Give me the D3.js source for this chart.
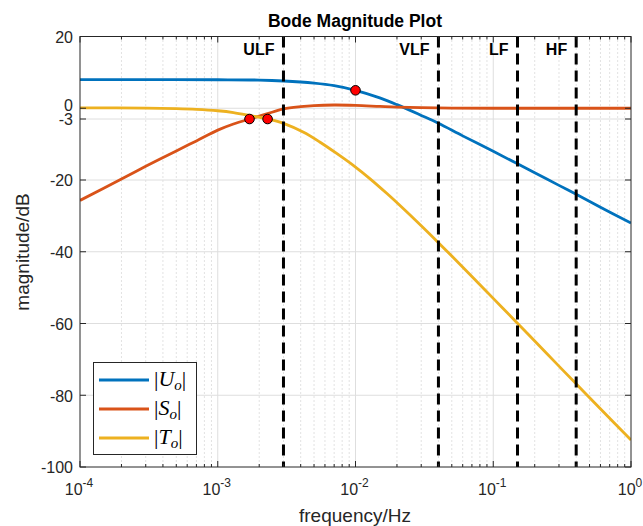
<!DOCTYPE html>
<html><head><meta charset="utf-8">
<script src="https://cdn.jsdelivr.net/npm/d3@7"></script>
<style>body{margin:0;background:#fff}</style>
</head><body>
<svg id="chart" width="643" height="526"></svg>
<script>
// ---- data ----
const freqU = [1e-4, 3e-4, 1e-3, 2e-3, 3e-3, 5e-3, 7e-3, 1e-2, 1.5e-2, 2e-2, 3e-2, 4e-2, 6e-2, 0.1, 0.15, 0.2, 0.3, 0.4, 0.6, 1];
const magU  = [8.0, 8.0, 7.95, 7.85, 7.6, 7.0, 6.3, 5.0, 2.9, 1.0, -2.0, -4.2, -7.7, -12.0, -15.5, -18.0, -21.5, -24.0, -27.6, -32.0];

const freqS = [1e-4, 2e-4, 3e-4, 5e-4, 7e-4, 1e-3, 1.3e-3, 1.7e-3, 2e-3, 2.3e-3, 3e-3, 4e-3, 5e-3, 7e-3, 1e-2, 1.5e-2, 2e-2, 3e-2, 5e-2, 0.1, 0.3, 1];
const magS  = [-25.7, -19.7, -16.2, -11.9, -9.1, -6.1, -4.4, -3.0, -2.2, -1.5, -0.2, 0.45, 0.75, 0.9, 0.8, 0.5, 0.3, 0.15, 0.05, 0.0, 0.0, 0.0];

const freqT = [1e-4, 3e-4, 5e-4, 7e-4, 1e-3, 1.3e-3, 1.7e-3, 2.3e-3, 3e-3, 4.2e-3, 5.5e-3, 7.3e-3, 1e-2, 1.27e-2, 1.7e-2, 2.2e-2, 3e-2, 3.9e-2, 5e-2, 6.8e-2, 0.1, 0.148, 0.2, 0.28, 0.39, 0.55, 0.75, 1];
const magT  = [0.1, 0.05, -0.1, -0.3, -0.7, -1.2, -2.0, -3.0, -4.2, -6.7, -9.4, -12.6, -16.4, -19.6, -23.85, -27.8, -32.75, -37.05, -41.2, -46.4, -53.0, -59.7, -64.9, -70.7, -76.4, -82.3, -87.6, -92.5];

const markerFreq = [1e-2, 1.7e-3, 2.3e-3];
const markerMag  = [5.0, -3.0, -3.0];

const bandFreq   = [0.003, 0.04, 0.15, 0.4];
const bandLabels = ["ULF", "VLF", "LF", "HF"];

const yTicks = [20, 0, -3, -20, -40, -60, -80, -100];
const xTickExp = [-4, -3, -2, -1, 0];

const seriesNames  = ["U", "S", "T"];
const seriesColors = ["#0072BD", "#D95319", "#EDB120"];

// ---- layout ----
const svg = d3.select("#chart");
const L = 80, R = 631, T = 36.5, B = 467;
const x = d3.scaleLog().domain([1e-4, 1]).range([L, R]);
const y = d3.scaleLinear().domain([-100, 20]).range([B, T]);
const axisColor = "#262626";
const sans = "'Liberation Sans', Arial, Helvetica, sans-serif";

// minor x values
const minorX = [];
xTickExp.slice(0, -1).forEach(e => { for (let k = 2; k <= 9; k++) minorX.push(k * Math.pow(10, e)); });

// grids
const g = svg.append("g");
g.selectAll(".mgx").data(minorX).enter().append("line")
  .attr("x1", d => x(d)).attr("x2", d => x(d)).attr("y1", T).attr("y2", B)
  .attr("stroke", "#c4c4c4").attr("stroke-width", 1).attr("stroke-dasharray", "1,3");
g.selectAll(".gx").data(xTickExp.slice(1, -1)).enter().append("line")
  .attr("x1", d => x(Math.pow(10, d))).attr("x2", d => x(Math.pow(10, d))).attr("y1", T).attr("y2", B)
  .attr("stroke", "#dedede").attr("stroke-width", 1);
g.selectAll(".gy").data(yTicks.filter(d => d > -100 && d < 20)).enter().append("line")
  .attr("x1", L).attr("x2", R).attr("y1", d => y(d)).attr("y2", d => y(d))
  .attr("stroke", "#dedede").attr("stroke-width", 1);

// curves
const line = d3.line().x(d => x(d[0])).y(d => y(d[1])).curve(d3.curveCatmullRom.alpha(0.5));
const series = [
  d3.zip(freqU, magU),
  d3.zip(freqS, magS),
  d3.zip(freqT, magT)
];
svg.append("clipPath").attr("id", "clp").append("rect")
  .attr("x", L).attr("y", T).attr("width", R - L).attr("height", B - T);
series.forEach((s, i) => {
  svg.append("path").datum(s).attr("d", line).attr("fill", "none")
    .attr("stroke", seriesColors[i]).attr("stroke-width", 2.8)
    .attr("clip-path", "url(#clp)");
});

// band lines
svg.selectAll(".band").data(bandFreq).enter().append("line")
  .attr("x1", d => x(d)).attr("x2", d => x(d)).attr("y1", T).attr("y2", B)
  .attr("stroke", "#000").attr("stroke-width", 3).attr("stroke-dasharray", "11,6");
svg.selectAll(".bandlbl").data(bandFreq).enter().append("text")
  .attr("x", d => x(d) - 9).attr("y", 55)
  .attr("text-anchor", "end").attr("font-family", sans).attr("font-weight", "bold")
  .attr("font-size", 16).attr("fill", "#000")
  .text((d, i) => bandLabels[i]);

// markers
svg.selectAll(".mk").data(d3.zip(markerFreq, markerMag)).enter().append("circle")
  .attr("cx", d => x(d[0])).attr("cy", d => y(d[1])).attr("r", 4.8)
  .attr("fill", "#ff0000").attr("stroke", "#000").attr("stroke-width", 1);

// axes box
const ax = svg.append("g").attr("stroke", axisColor).attr("stroke-width", 1).attr("fill", "none");
ax.append("rect").attr("x", L).attr("y", T).attr("width", R - L).attr("height", B - T);
yTicks.forEach(t => {
  ax.append("line").attr("x1", L).attr("x2", L + 6).attr("y1", y(t)).attr("y2", y(t));
  ax.append("line").attr("x1", R).attr("x2", R - 6).attr("y1", y(t)).attr("y2", y(t));
});
xTickExp.forEach(e => {
  const xv = x(Math.pow(10, e));
  ax.append("line").attr("x1", xv).attr("x2", xv).attr("y1", B).attr("y2", B - 6);
  ax.append("line").attr("x1", xv).attr("x2", xv).attr("y1", T).attr("y2", T + 6);
});
minorX.forEach(m => {
  const xv = x(m);
  ax.append("line").attr("x1", xv).attr("x2", xv).attr("y1", B).attr("y2", B - 3);
  ax.append("line").attr("x1", xv).attr("x2", xv).attr("y1", T).attr("y2", T + 3);
});

// y tick labels
svg.selectAll(".yl").data(yTicks).enter().append("text")
  .attr("x", L - 7).attr("y", d => y(d)).attr("dy", d => d === 0 ? "0.2em" : "0.4em")
  .attr("text-anchor", "end").attr("font-family", sans).attr("font-size", 16)
  .attr("fill", axisColor).text(d => d);

// x tick labels
xTickExp.forEach(e => {
  const t = svg.append("text").attr("x", x(Math.pow(10, e)) - 1).attr("y", 495)
    .attr("text-anchor", "middle").attr("font-family", sans).attr("font-size", 16).attr("fill", axisColor);
  t.append("tspan").text("10");
  t.append("tspan").attr("dy", -8).attr("font-size", 12).text(e);
});

// axis labels
svg.append("text").attr("x", 355).attr("y", 522).attr("text-anchor", "middle")
  .attr("font-family", sans).attr("font-size", 19).attr("fill", axisColor).text("frequency/Hz");
svg.append("text").attr("transform", "translate(29,252) rotate(-90)").attr("text-anchor", "middle")
  .attr("font-family", sans).attr("font-size", 19).attr("fill", axisColor).text("magnitude/dB");

// title
svg.append("text").attr("x", 355).attr("y", 27).attr("text-anchor", "middle")
  .attr("font-family", sans).attr("font-weight", "bold").attr("font-size", 17.5)
  .attr("fill", "#000").text("Bode Magnitude Plot");

// legend
const lg = svg.append("g");
lg.append("rect").attr("x", 93.5).attr("y", 362.5).attr("width", 103).attr("height", 92)
  .attr("fill", "#fff").attr("stroke", axisColor).attr("stroke-width", 1);
seriesNames.forEach((n, i) => {
  const ly = 380 + i * 29;
  lg.append("line").attr("x1", 99).attr("x2", 149).attr("y1", ly).attr("y2", ly)
    .attr("stroke", seriesColors[i]).attr("stroke-width", 2.8);
  const t = lg.append("text").attr("x", 154).attr("y", ly + 6)
    .attr("font-family", "'Liberation Serif', 'Times New Roman', serif").attr("font-size", 22).attr("fill", "#000");
  t.append("tspan").text("|");
  t.append("tspan").attr("font-style", "italic").text(n);
  t.append("tspan").attr("font-style", "italic").attr("font-size", 15).attr("dy", 4).text("o");
  t.append("tspan").attr("dy", -4).text("|");
});
</script>
</body></html>
